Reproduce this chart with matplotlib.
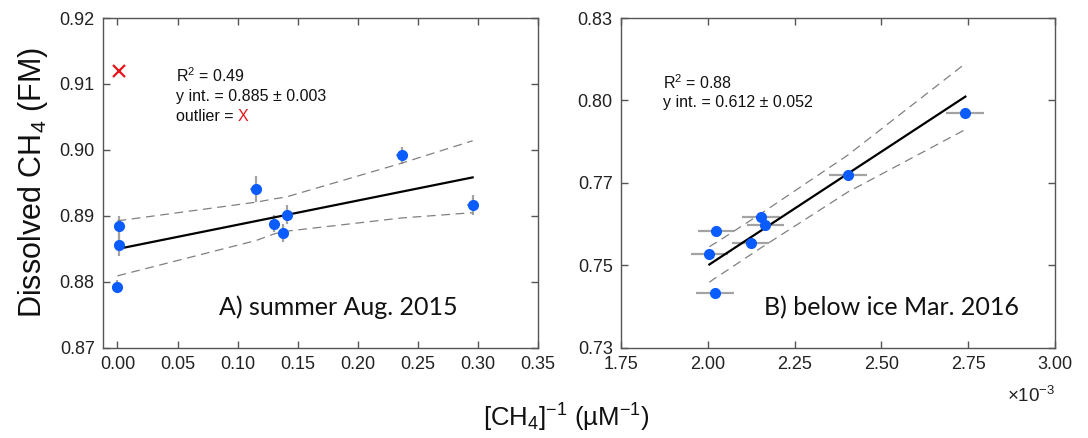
import numpy as np
import matplotlib
matplotlib.use("Agg")
import matplotlib.pyplot as plt

plt.rcParams['font.family'] = ['Liberation Sans', 'DejaVu Sans']
plt.rcParams['mathtext.fontset'] = 'custom'
plt.rcParams['mathtext.rm'] = 'Liberation Sans'
plt.rcParams['mathtext.it'] = 'Liberation Sans:italic'
plt.rcParams['mathtext.bf'] = 'Liberation Sans:bold'

# ---- Panel A: summer Aug. 2015 ----
inv_ch4_a = [0.0014, 0.0014, 0.0000, 0.1156, 0.1306, 0.1378, 0.1408, 0.2364, 0.2956]
fm_a = [0.8885, 0.8856, 0.8793, 0.8941, 0.8888, 0.8874, 0.8902, 0.8992, 0.8917]
fm_err_a = [0.0015, 0.0017, 0.0010, 0.0020, 0.0013, 0.0014, 0.0014, 0.0013, 0.0015]
inv_err_a = [0.004, 0.004, 0.004, 0.005, 0.004, 0.004, 0.004, 0.005, 0.005]
outlier_a = (0.0010, 0.9120)
intercept_a, slope_a = 0.885, 0.0367
band_x_a = [0.0000, 0.0014, 0.1156, 0.1306, 0.1378, 0.1408, 0.2364, 0.2956]
band_hi_a = [0.8893, 0.8893, 0.8921, 0.8926, 0.8928, 0.8929, 0.8980, 0.9014]
band_lo_a = [0.8809, 0.8810, 0.8863, 0.8873, 0.8876, 0.8877, 0.8897, 0.8905]

# ---- Panel B: below ice Mar. 2016 (x in uM^-1) ----
inv_ch4_b = [2.0236e-3, 2.0044e-3, 2.0198e-3, 2.1235e-3, 2.1523e-3, 2.1657e-3, 2.4038e-3, 2.7417e-3]
fm_b = [0.7605, 0.7534, 0.7416, 0.7569, 0.7647, 0.7622, 0.7775, 0.7962]
inv_err_b = [0.053e-3, 0.053e-3, 0.055e-3, 0.053e-3, 0.055e-3, 0.053e-3, 0.055e-3, 0.055e-3]
fm_err_b = [0.0005] * 8
intercept_b, slope_b = 0.612, 69.0
band_x_b = [2.0044e-3, 2.0198e-3, 2.0236e-3, 2.1235e-3, 2.1523e-3, 2.1657e-3, 2.4038e-3, 2.7417e-3]
band_hi_b = [0.7557, 0.7567, 0.7569, 0.7637, 0.7657, 0.7666, 0.7835, 0.8112]
band_lo_b = [0.7449, 0.7461, 0.7463, 0.7533, 0.7553, 0.7562, 0.7723, 0.7912]

xticks_a = [0.00, 0.05, 0.10, 0.15, 0.20, 0.25, 0.30, 0.35]
yticks_a = [0.87, 0.88, 0.89, 0.90, 0.91, 0.92]
xticks_b = [1.75, 2.00, 2.25, 2.50, 2.75, 3.00]
yticks_b = [0.725, 0.75, 0.775, 0.80, 0.825]
ytick_labels_b = ["0.73", "0.75", "0.77", "0.80", "0.83"]

BLUE = "#0a5cff"
ERR = "#a3a3a3"
BAND = "#808080"
FRAME = "#555555"

fig = plt.figure(figsize=(10.88, 4.38), dpi=100)
ax_a = fig.add_axes([0.0947, 0.2055, 0.3998, 0.7534])
ax_b = fig.add_axes([0.5708, 0.2055, 0.3989, 0.7534])


def style(ax):
    for s in ax.spines.values():
        s.set_color(FRAME)
        s.set_linewidth(1.0)
    ax.tick_params(direction='in', top=True, right=True, length=5, width=1.0,
                   color=FRAME, labelsize=13, labelcolor='#222222', pad=6)


# Panel A
xa = np.array(inv_ch4_a)
ax_a.errorbar(xa, fm_a, yerr=fm_err_a, xerr=inv_err_a, fmt='none', ecolor=ERR,
              elinewidth=1.6, capsize=0, zorder=2)
ax_a.plot(xa, fm_a, 'o', color=BLUE, ms=7, mec=BLUE, zorder=4)
ax_a.plot(*outlier_a, 'x', color='#e8141b', ms=8, mew=1.6, zorder=4)
fit_xa = np.array([xa.min(), xa.max()])
ax_a.plot(fit_xa, intercept_a + slope_a * fit_xa, color='black', lw=1.6, zorder=3)
ax_a.plot(band_x_a, band_hi_a, color=BAND, lw=0.9, dashes=(7, 4.5), zorder=3)
ax_a.plot(band_x_a, band_lo_a, color=BAND, lw=0.9, dashes=(7, 4.5), zorder=3)
ax_a.set_xlim(-0.012, 0.35)
ax_a.set_ylim(0.87, 0.92)
ax_a.set_xticks(xticks_a)
ax_a.set_xticklabels([f"{v:.2f}" for v in xticks_a])
ax_a.set_yticks(yticks_a)
ax_a.set_yticklabels([f"{v:.2f}" for v in yticks_a])
style(ax_a)

tkw = dict(fontsize=11.5, color='#111111', transform=ax_a.transAxes)
ax_a.text(0.168, 0.805, "R$^2$ = 0.49", **tkw)
ax_a.text(0.168, 0.748, "y int. = 0.885 ± 0.003", **tkw)
t_out = ax_a.text(0.168, 0.688, "outlier = ", **tkw)
ax_a.annotate("X", xy=(1, 0), xycoords=t_out, va='bottom', ha='left',
              fontsize=11.5, color='#e8141b')
ax_a.text(0.267, 0.10, "A) summer Aug. 2015", fontsize=18, family=['Lato', 'DejaVu Sans'],
          color='#111111', transform=ax_a.transAxes)

# Panel B (x axis shown in units of 1e-3)
xb = np.array(inv_ch4_b) * 1e3
ax_b.errorbar(xb, fm_b, yerr=fm_err_b, xerr=np.array(inv_err_b) * 1e3, fmt='none',
              ecolor=ERR, elinewidth=1.6, capsize=0, zorder=2)
ax_b.plot(xb, fm_b, 'o', color=BLUE, ms=7, mec=BLUE, zorder=4)
fit_xb = np.array([min(inv_ch4_b), max(inv_ch4_b)])
ax_b.plot(fit_xb * 1e3, intercept_b + slope_b * fit_xb, color='black', lw=1.6, zorder=3)
ax_b.plot(np.array(band_x_b) * 1e3, band_hi_b, color=BAND, lw=0.9, dashes=(7, 4.5), zorder=3)
ax_b.plot(np.array(band_x_b) * 1e3, band_lo_b, color=BAND, lw=0.9, dashes=(7, 4.5), zorder=3)
ax_b.set_xlim(1.75, 3.00)
ax_b.set_ylim(0.725, 0.825)
ax_b.set_xticks(xticks_b)
ax_b.set_xticklabels([f"{v:.2f}" for v in xticks_b])
ax_b.set_yticks(yticks_b)
ax_b.set_yticklabels(ytick_labels_b)
style(ax_b)

tkw_b = dict(fontsize=11.5, color='#111111', transform=ax_b.transAxes)
ax_b.text(0.097, 0.785, "R$^2$ = 0.88", **tkw_b)
ax_b.text(0.097, 0.730, "y int. = 0.612 ± 0.052", **tkw_b)
ax_b.text(0.330, 0.10, "B) below ice Mar. 2016", fontsize=18, family=['Lato', 'DejaVu Sans'],
          color='#111111', transform=ax_b.transAxes)
ax_b.text(1.0, -0.115, "×10$^{-3}$", fontsize=13.5, color='#222222', ha='right', va='top',
          transform=ax_b.transAxes)

fig.text(0.030, 0.582, "Dissolved CH$_4$ (FM)", rotation=90, fontsize=22,
         ha='center', va='center', color='#111111')
fig.text(0.52, 0.045, "[CH$_4$]$^{-1}$ (µM$^{-1}$)", fontsize=18.5,
         ha='center', va='center', color='#111111')

fig.savefig("out.png", dpi=100, facecolor='white')
